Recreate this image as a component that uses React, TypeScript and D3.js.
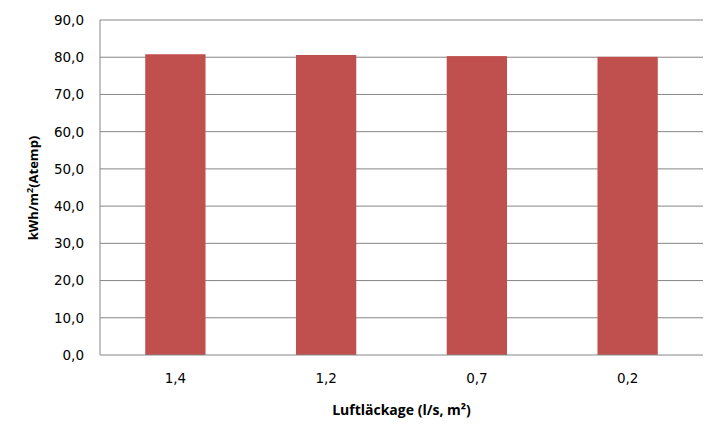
import React from "react";
import * as d3 from "d3";

const categories = ["1,4", "1,2", "0,7", "0,2"];
const values = [80.8, 80.6, 80.3, 80.1];
const yTicks = [0, 10, 20, 30, 40, 50, 60, 70, 80, 90];

const width = 724;
const height = 442;
const margin = { top: 20, right: 21, bottom: 87, left: 100 };

const App: React.FC = () => {
  const x = d3
    .scaleBand<string>()
    .domain(categories)
    .range([margin.left, width - margin.right])
    .paddingInner(0.6)
    .paddingOuter(0.3);

  const y = d3
    .scaleLinear()
    .domain([0, 90])
    .range([height - margin.bottom, margin.top]);

  const fmt = (v: number) => v.toFixed(1).replace(".", ",");
  const axisColor = "#868686";

  return (
    <svg
      width={width}
      height={height}
      style={{ position: "absolute", left: 0, top: 0, background: "#fff" }}
    >
      {yTicks.map((t) => (
        <g key={t}>
          {t > 0 && (
            <line
              x1={margin.left}
              x2={width - margin.right}
              y1={y(t)}
              y2={y(t)}
              stroke={axisColor}
              strokeWidth={1}
            />
          )}
          <text
            x={margin.left - 16}
            y={y(t)}
            dy="0.36em"
            textAnchor="end"
            fontFamily="DejaVu Sans"
            fontSize={13.5}
            fill="#000"
          >
            {fmt(t)}
          </text>
        </g>
      ))}

      {categories.map((c, i) => (
        <rect
          key={c}
          x={x(c)}
          y={y(values[i])}
          width={x.bandwidth()}
          height={y(0) - y(values[i])}
          fill="#C0504D"
        />
      ))}

      <line
        x1={margin.left}
        x2={margin.left}
        y1={margin.top}
        y2={y(0)}
        stroke={axisColor}
      />
      <line
        x1={margin.left}
        x2={width - margin.right}
        y1={y(0)}
        y2={y(0)}
        stroke={axisColor}
      />

      {categories.map((c) => (
        <text
          key={c}
          x={(x(c) as number) + x.bandwidth() / 2}
          y={383}
          textAnchor="middle"
          fontFamily="DejaVu Sans"
          fontSize={13.5}
          fill="#000"
        >
          {c}
        </text>
      ))}

      <text
        x={(margin.left + width - margin.right) / 2}
        y={415}
        textAnchor="middle"
        fontFamily="Open Sans"
        fontWeight="bold"
        fontSize={14}
        fill="#000"
      >
        Luftläckage (l/s, m²)
      </text>

      <text
        transform={`translate(38, 188) rotate(-90)`}
        textAnchor="middle"
        fontFamily="Open Sans"
        fontWeight="bold"
        fontSize={13}
        fill="#000"
      >
        kWh/m<tspan dy="-5" fontSize={9}>2</tspan>
        <tspan dy="5">(Atemp)</tspan>
      </text>
    </svg>
  );
};

export default App;
